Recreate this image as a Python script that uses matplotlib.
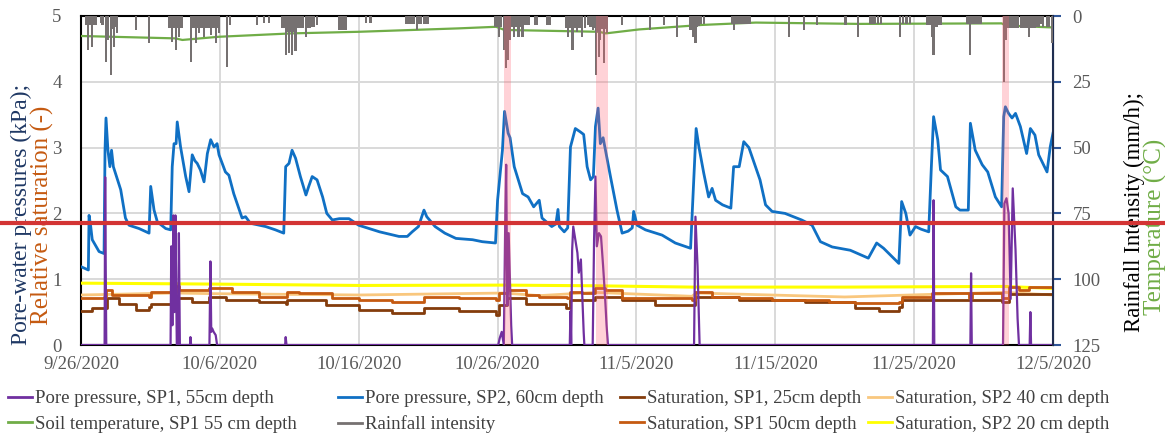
import numpy as np
import pandas as pd
import matplotlib
matplotlib.use("Agg")
import matplotlib.pyplot as plt
import matplotlib.transforms as mtransforms
from matplotlib.lines import Line2D

plt.rcParams['font.family'] = ['Liberation Serif', 'DejaVu Serif']

# time axis: days since 9/26/2020
start = pd.Timestamp("2020-09-26")
n_days = 70
tick_days = [0, 10, 20, 30, 40, 50, 60, 70]
tick_labels = ["9/26/2020", "10/6/2020", "10/16/2020", "10/26/2020",
               "11/5/2020", "11/15/2020", "11/25/2020", "12/5/2020"]

# Pore pressure, SP2, 60cm depth (kPa)
pp2_days = [0, 0.53, 0.58, 0.7, 0.81, 1.3, 1.66, 1.73, 1.8, 1.94, 2.08, 2.2, 2.33, 2.86,
            3.2, 3.46, 4.18, 4.9, 5.02, 5.26, 5.5, 6.1, 6.46, 6.57, 6.7, 6.85, 6.93, 7.17,
            7.54, 7.78, 8.01, 8.2, 8.37, 8.6, 8.86, 9.1, 9.34, 9.58, 9.8, 9.94, 10.4,
            10.65, 11.0, 11.4, 11.6, 11.85, 12.2, 13.3, 14.0, 14.6, 14.74, 14.98, 15.2,
            15.45, 15.8, 16.2, 16.4, 16.65, 17.0, 17.4, 17.7, 18.1, 18.6, 19.3, 20.0,
            21.5, 22.9, 23.5, 23.85, 24.3, 24.7, 24.9, 25.5, 26.2, 27.0, 28.2, 28.9,
            29.85, 30.0, 30.35, 30.5, 30.76, 30.9, 31.2, 31.8, 32.2, 32.6, 33.0, 33.2,
            33.9, 34.2, 34.35, 34.45, 34.8, 35.05, 35.25, 35.6, 35.95, 36.2, 36.45, 36.7,
            36.9, 37.05, 37.24, 37.4, 37.6, 37.77, 38.13, 38.6, 38.97, 39.4, 39.7, 39.8,
            40.05, 40.65, 41.85, 42.8, 43.9, 44.06, 44.3, 44.5, 44.85, 45.2, 45.45, 45.7,
            46.2, 46.8, 47.0, 47.4, 47.73, 48.1, 48.57, 48.9, 49.3, 49.77, 50.7, 51.9,
            52.65, 53.25, 54.1, 55.4, 56.7, 57.3, 57.8, 58.9, 59.1, 59.4, 59.7, 60.1,
            60.5, 61.05, 61.24, 61.4, 61.7, 61.9, 62.4, 63.0, 63.3, 63.9, 64.05, 64.4,
            64.9, 65.3, 65.85, 66.3, 66.45, 66.57, 66.8, 67.05, 67.3, 67.65, 68.1, 68.37,
            68.7, 68.97, 69.57, 69.8, 70.0]
pp2_vals = [1.19, 1.14, 1.97, 1.80, 1.60, 1.42, 1.39, 2.96, 3.45, 2.96, 2.71, 2.96, 2.71, 2.36,
            1.93, 1.82, 1.77, 1.70, 2.41, 2.05, 1.87, 1.77, 1.75, 2.71, 3.06, 3.06, 3.39, 3.01,
            2.56, 2.33, 2.89, 2.80, 2.76, 2.66, 2.48, 2.91, 3.12, 3.01, 3.06, 2.89, 2.63,
            2.58, 2.30, 2.05, 1.93, 1.95, 1.85, 1.80, 1.75, 1.70, 2.71, 2.76, 2.96,
            2.84, 2.56, 2.28, 2.41, 2.56, 2.51, 2.25, 2.00, 1.90, 1.92, 1.92, 1.82,
            1.72, 1.65, 1.65, 1.72, 1.80, 2.05, 1.95, 1.80, 1.70, 1.62, 1.60, 1.57,
            1.55, 2.20, 2.96, 3.55, 3.22, 3.15, 2.71, 2.30, 2.25, 2.10, 2.20, 1.93,
            1.80, 1.84, 2.06, 1.80, 1.72, 1.78, 3.01, 3.29, 3.24, 3.20, 2.71, 2.51,
            2.56, 3.32, 3.60, 3.06, 3.15, 2.96, 2.56, 2.05, 1.70, 1.73, 1.78, 2.03,
            1.82, 1.75, 1.67, 1.55, 1.47, 2.20, 3.29, 3.01, 2.61, 2.25, 2.38, 2.20,
            2.13, 2.08, 2.71, 2.71, 3.09, 3.00, 2.71, 2.51, 2.13, 2.03, 2.00, 1.90,
            1.82, 1.57, 1.49, 1.44, 1.32, 1.55, 1.47, 1.24, 2.18, 2.00, 1.67, 1.80,
            1.76, 1.72, 2.71, 3.47, 3.12, 2.66, 2.56, 2.10, 2.05, 2.05, 3.37, 2.96,
            2.74, 2.63, 2.25, 2.10, 3.47, 3.62, 3.52, 3.45, 3.52, 3.32, 2.91, 3.29,
            3.19, 2.89, 2.63, 3.01, 3.22]

# Pore pressure, SP1, 55cm depth (kPa)
pp1_days = [0, 1.70, 1.74, 1.78, 1.82, 6.45, 6.5, 6.58, 6.65, 6.72, 6.8, 6.9, 7.0, 7.05,
            7.12, 7.85, 7.88, 7.93, 9.25, 9.32, 9.38, 9.45, 9.55, 9.7, 9.8, 14.7, 14.74,
            14.8, 30.05, 30.15, 30.3, 30.45, 30.55, 30.62, 30.7, 30.8, 30.9, 30.98, 31.05,
            35.2, 35.25, 35.3, 35.37, 35.45, 35.6, 35.75, 35.85, 36.0, 36.2, 36.25,
            36.85, 36.95, 37.05, 37.15, 37.3, 37.45, 37.6, 37.75, 37.85, 37.95,
            44.15, 44.25, 44.4, 44.55, 61.35, 61.4, 61.45, 64.05, 64.1, 64.15,
            66.4, 66.5, 66.65, 66.8, 66.95, 67.1, 67.3, 67.45, 67.55, 68.32, 68.37,
            68.42, 70.0]
pp1_vals = [0, 0, 2.55, 1.2, 0, 0, 1.5, 0.3, 1.97, 0.5, 1.97, 0, 0, 1.7,
            0, 0, 0.12, 0, 0, 1.27, 0.2, 0.25, 0.2, 0.15, 0, 0, 0.12,
            0, 0, 0.1, 0.2, 0, 1.85, 2.74, 0.6, 1.7, 0.9, 0.3, 0,
            0, 0.51, 0, 1.44, 1.8, 1.6, 1.4, 1.1, 1.3, 0.2, 0,
            0, 1.6, 2.56, 1.5, 1.7, 1.65, 1.2, 0.7, 0.3, 0,
            0, 1.95, 1.2, 0, 0, 2.2, 0, 0, 1.09, 0,
            0, 2.15, 2.23, 2.0, 0.7, 2.38, 1.45, 0.4, 0, 0, 0.5,
            0, 0]

# Saturation, SP1, 25cm depth (-)
sat125_days = [0, 0.82, 1.66, 1.9, 2.74, 3.94, 4.9, 5.02, 6.58, 6.82, 8.02, 9.22, 10.42,
               12.82, 14.74, 14.86, 17.62, 20.02, 22.42, 24.58, 24.7, 27.22, 29.86, 30.1,
               30.7, 32.02, 32.97, 34.9, 35.25, 37.05, 37.77, 38.97, 41.37, 44.01, 44.25,
               47.37, 52.17, 55.77, 57.45, 58.89, 59.13, 61.77, 66.33, 66.81, 70.0]
sat125_vals = [0.51, 0.56, 0.56, 0.71, 0.63, 0.53, 0.58, 0.63, 0.66, 0.71, 0.66, 0.73, 0.68,
               0.66, 0.63, 0.68, 0.61, 0.53, 0.48, 0.48, 0.56, 0.51, 0.46, 0.61,
               0.71, 0.63, 0.63, 0.56, 0.68, 0.73, 0.73, 0.68, 0.61, 0.61, 0.73,
               0.68, 0.66, 0.56, 0.51, 0.58, 0.68, 0.68, 0.66, 0.78, 0.78]

# Saturation, SP1, 50cm depth (-)
sat150_days = [0, 1.66, 1.78, 2.26, 4.9, 5.02, 6.58, 6.82, 7.06, 8.02, 9.22, 9.7, 10.9,
               12.82, 14.74, 14.86, 15.7, 18.1, 20.02, 22.42, 24.58, 24.7, 27.22, 29.86,
               30.1, 30.7, 32.02, 32.97, 35.0, 35.25, 36.09, 37.05, 37.77, 38.97, 44.01,
               44.25, 45.45, 47.37, 49.77, 53.85, 55.77, 58.89, 59.13, 61.29, 63.93, 64.17,
               66.33, 66.81, 67.53, 68.25, 70.0]
sat150_vals = [0.71, 0.735, 0.84, 0.76, 0.735, 0.81, 0.81, 0.89, 0.836, 0.836, 0.862, 0.86, 0.81,
               0.735, 0.735, 0.81, 0.786, 0.71, 0.684, 0.66, 0.66, 0.735, 0.71, 0.684,
               0.786, 0.84, 0.76, 0.735, 0.71, 0.81, 0.786, 0.862, 0.836, 0.71, 0.684,
               0.81, 0.735, 0.71, 0.684, 0.66, 0.633, 0.66, 0.735, 0.786, 0.71, 0.786,
               0.71, 0.887, 0.836, 0.887, 0.786]

# Saturation, SP2 40 cm depth (-)
sat240_days = [0, 6.8, 9.5, 20, 30.5, 33, 37, 44, 44.3, 55, 61.3, 66.5, 70]
sat240_vals = [0.76, 0.79, 0.78, 0.76, 0.79, 0.75, 0.80, 0.74, 0.79, 0.73, 0.77, 0.80, 0.76]

# Saturation, SP2 20 cm depth (-)
sat220_days = [0, 6.8, 10, 20, 30.5, 37, 44, 55, 66.5, 70]
sat220_vals = [0.94, 0.93, 0.925, 0.905, 0.91, 0.90, 0.88, 0.88, 0.89, 0.86]

# Soil temperature, SP1 55 cm depth (deg C, right axis)
temp_days = [0, 6.8, 7.3, 9.9, 15.2, 20, 27.2, 29.9, 30.5, 37.3, 37.8, 40.2, 44.7, 48.6,
             56, 66.3, 66.6, 69.7, 70]
temp_vals = [7.6, 8.5, 9.1, 7.9, 6.6, 6.0, 4.7, 4.1, 5.3, 6.0, 6.6, 5.1, 3.4, 2.5,
             3.0, 2.8, 3.6, 4.3, 4.3]

# Rainfall intensity (mm/h, right axis)
rain_days = [0.34, 0.45, 0.53, 0.65, 0.81, 0.95, 1.06, 1.42, 1.55, 1.78, 1.97, 2.14, 2.26,
             2.38, 2.5, 2.62, 3.94, 4.9, 6.34, 6.46, 6.58, 6.7, 6.82, 6.94, 7.06, 7.18,
             7.3, 7.9, 8.02, 8.14, 8.26, 8.38, 8.5, 8.62, 8.74, 8.86, 8.98, 9.1, 9.22,
             9.34, 9.46, 9.58, 9.7, 9.82, 9.94, 10.5, 10.75, 12.7, 13.2, 13.55, 14.5,
             14.62, 14.74, 14.86, 15.0, 15.1, 15.2, 15.32, 15.45, 15.58, 15.7, 15.8, 16.0,
             16.2, 16.35, 16.5, 16.65, 16.8, 17.0, 18.6, 18.75, 18.9, 19.05, 20.5, 20.85,
             23.4, 23.55, 23.7, 23.85, 24.0, 24.2, 24.35, 24.5, 24.7, 24.85, 25.0,
             29.85, 30.0, 30.1, 30.25, 30.45, 30.6, 30.76, 30.9, 31.05, 31.2, 31.35, 31.5,
             31.65, 31.8, 31.95, 32.1, 32.25, 32.7, 32.85, 33.6, 33.75, 34.9, 35.0, 35.1,
             35.25, 35.4, 35.55, 35.7, 35.85, 36.0, 36.1, 36.3, 36.5, 36.7, 36.9, 37.0,
             37.1, 37.2, 37.3, 37.4, 37.52, 37.65, 37.78, 37.9, 38.97, 41.0, 42.0, 42.9,
             43.9, 44.05, 44.15, 44.25, 44.35, 44.5, 44.65, 44.85, 46.9, 47.0, 47.15,
             47.3, 47.45, 47.6, 47.75, 47.9, 48.05, 48.2, 51.0, 52.05, 53.0, 55.05, 55.96,
             56.85, 57.0, 57.2, 57.4, 57.6, 59.0, 59.2, 59.45, 59.7, 60.9, 61.05, 61.2,
             61.3, 61.4, 61.52, 61.65, 61.8, 61.9, 63.8, 63.95, 64.05, 64.2, 64.35, 64.5,
             64.65, 64.8, 66.45, 66.6, 66.75, 66.9, 67.05, 67.2, 67.35, 67.5, 67.7, 67.85,
             68.0, 68.12, 68.25, 68.4, 68.55, 68.7, 68.85, 69.0, 69.1, 69.3, 69.55, 69.7,
             69.9]
rain_vals = [3.4, 3.4, 12.9, 3.4, 11.7, 3.4, 3.4, 2.7, 3.4, 17.4, 9.1, 22.4, 5.0,
             11.7, 4.0, 6.6, 5.3, 10.1, 4.7, 4.7, 9.8, 4.7, 12.9, 4.7, 7.9, 4.7,
             4.7, 17.4, 4.7, 4.7, 10.1, 4.7, 6.6, 4.7, 4.7, 7.9, 4.7, 4.7, 4.7,
             7.2, 4.7, 4.7, 10.4, 4.7, 6.6, 19.3, 3.4, 3.4, 2.7, 2.7, 4.7,
             4.7, 14.8, 6.0, 14.1, 6.0, 14.8, 6.0, 13.4, 4.7, 4.7, 4.7, 4.7,
             7.9, 4.7, 4.7, 4.0, 4.0, 3.4, 5.3, 5.3, 5.3, 5.3, 2.7, 2.7,
             3.0, 3.0, 3.0, 3.0, 3.0, 5.3, 3.0, 3.0, 3.0, 3.0, 3.0,
             4.1, 4.1, 7.9, 4.1, 12.9, 19.9, 16.7, 9.1, 4.1, 7.9, 4.1, 7.9,
             4.1, 7.9, 3.4, 3.4, 3.4, 3.4, 3.4, 3.4, 3.4, 4.7, 4.7, 7.9,
             4.7, 12.9, 4.7, 5.9, 4.7, 4.7, 7.9, 4.7, 3.4, 4.0, 5.3, 4.7,
             22.4, 6.0, 15.5, 9.1, 5.0, 18.0, 5.0, 6.6, 3.4, 5.3, 3.4, 7.9,
             5.3, 7.9, 4.0, 10.4, 4.0, 3.8, 3.0, 3.0, 3.0, 5.3, 3.0,
             3.0, 3.0, 3.0, 3.0, 3.0, 3.0, 3.0, 7.9, 5.3, 3.4, 3.4, 7.9,
             3.0, 3.0, 3.0, 3.0, 3.0, 7.9, 3.0, 3.0, 3.0, 3.4, 3.4, 3.4,
             7.9, 14.8, 4.0, 4.0, 3.4, 3.4, 3.0, 3.0, 14.8, 3.0, 3.0, 3.0,
             3.0, 3.0, 25.0, 9.1, 4.7, 4.7, 4.7, 4.7, 4.7, 4.7, 4.7, 4.7,
             4.7, 4.7, 7.9, 4.7, 4.7, 4.7, 4.0, 4.0, 3.0, 4.0, 4.0, 4.0,
             10.4]

# highlighted rain events (start day, end day)
events = [(30.45, 30.96), (37.08, 37.94), (66.3, 66.8)]
red_line_level = 1.86  # kPa, drawn across the whole figure


def to_dates(days):
    return start + pd.to_timedelta(np.asarray(days, dtype=float), unit="D")


W, H = 1165, 438
fig = plt.figure(figsize=(W / 100, H / 100), dpi=100)
ax = fig.add_axes([81 / W, 93 / H, 972 / W, 329 / H])
ax2 = ax.twinx()

tick_col = "#595959"

# left axis series
ax.plot(to_dates(sat240_days), sat240_vals, color="#f9c77e", lw=2, zorder=3)
ax.plot(to_dates(sat220_days), sat220_vals, color="#ffff00", lw=2.2, zorder=3)
ax.plot(to_dates(sat125_days), sat125_vals, color="#843c0c", lw=2, zorder=3,
        drawstyle="steps-post")
ax.plot(to_dates(sat150_days), sat150_vals, color="#c55a11", lw=2, zorder=3,
        drawstyle="steps-post")
ax.plot(to_dates(pp2_days), pp2_vals, color="#1070c4", lw=2, zorder=4)
ax.plot(to_dates(pp1_days), pp1_vals, color="#7030a0", lw=1.6, zorder=5)

ax.set_xlim(to_dates([0])[0], to_dates([n_days])[0])
ax.set_ylim(0, 5)
ax.set_yticks(range(6))
ax.set_xticks(to_dates(tick_days))
ax.set_xticklabels(tick_labels)
ax.grid(True, color="#d9d9d9", lw=1.4, zorder=0)
ax.tick_params(axis="both", length=0, labelsize=13.5, colors=tick_col)
ax.tick_params(axis="y", pad=14)
ax.tick_params(axis="x", pad=8)
for s in ["left", "bottom", "top"]:
    ax.spines[s].set_color("black")
    ax.spines[s].set_linewidth(1.5)

# right axis: rainfall and temperature (inverted)
ax2.plot(to_dates(temp_days), temp_vals, color="#70ad47", lw=1.6, zorder=2)
ax2.bar(to_dates(rain_days), rain_vals, width=0.16, color="#767171", zorder=3)
for a, b in events:
    ax2.axvspan(to_dates([a])[0], to_dates([b])[0], color="#ff6070", alpha=0.28,
                lw=0, zorder=6)
ax2.set_ylim(125, 0)
ax2.set_yticks(range(0, 126, 25))
ax2.tick_params(axis="y", direction="out", length=6, width=1.5, color="#2f5597",
                labelcolor=tick_col, labelsize=13.5, pad=8)
ax2.spines["right"].set_color("#1f2d50")
ax2.spines["right"].set_linewidth(1.5)
for s in ["left", "bottom", "top"]:
    ax2.spines[s].set_visible(False)
ax2.set_xlim(ax.get_xlim())

# axis titles
fig.text(21 / W, 1 - 214 / H, "Pore-water pressures (kPa);", rotation=90,
         ha="center", va="center", fontsize=17, color="#1f3864")
fig.text(42 / W, 1 - 215 / H, "Relative saturation (-)", rotation=90,
         ha="center", va="center", fontsize=18, color="#c55a11")
fig.text(1134 / W, 1 - 212 / H, "Rainfall Intensity (mm/h);", rotation=90,
         ha="center", va="center", fontsize=16.5, color="black")
fig.text(1155 / W, 1 - 227 / H, "Temperature (\u00b0C)", rotation=90,
         ha="center", va="center", fontsize=18, color="#70ad47")

# legend: four columns of two entries each
legend_cols = [
    (["#7030a0", "#70ad47"],
     ["Pore pressure, SP1, 55cm depth", "Soil temperature, SP1 55 cm depth"]),
    (["#1070c4", "#767171"],
     ["Pore pressure, SP2, 60cm depth", "Rainfall intensity"]),
    (["#843c0c", "#c55a11"],
     ["Saturation, SP1, 25cm depth", "Saturation, SP1 50cm depth"]),
    (["#f9c77e", "#ffff00"],
     ["Saturation, SP2 40 cm depth", "Saturation, SP2 20 cm depth"]),
]
legend_x = [8, 338, 620, 868]
for (cols, labs), lx in zip(legend_cols, legend_x):
    hs = [Line2D([], [], color=c, lw=2) for c in cols]
    leg = fig.legend(hs, labs, loc="upper left", bbox_to_anchor=(lx / W, 1 - 390 / H),
                     frameon=False, fontsize=13.5, handlelength=1.3, handletextpad=0.15,
                     labelspacing=0.45, borderpad=0, borderaxespad=0)
    for t in leg.get_texts():
        t.set_color("#404040")

# red horizontal line across the figure
trans = mtransforms.blended_transform_factory(fig.transFigure, ax.transData)
fig.add_artist(Line2D([0, 1], [red_line_level, red_line_level], transform=trans,
                      color="#d33434", lw=3, zorder=10))

fig.savefig("out.png", dpi=100)
